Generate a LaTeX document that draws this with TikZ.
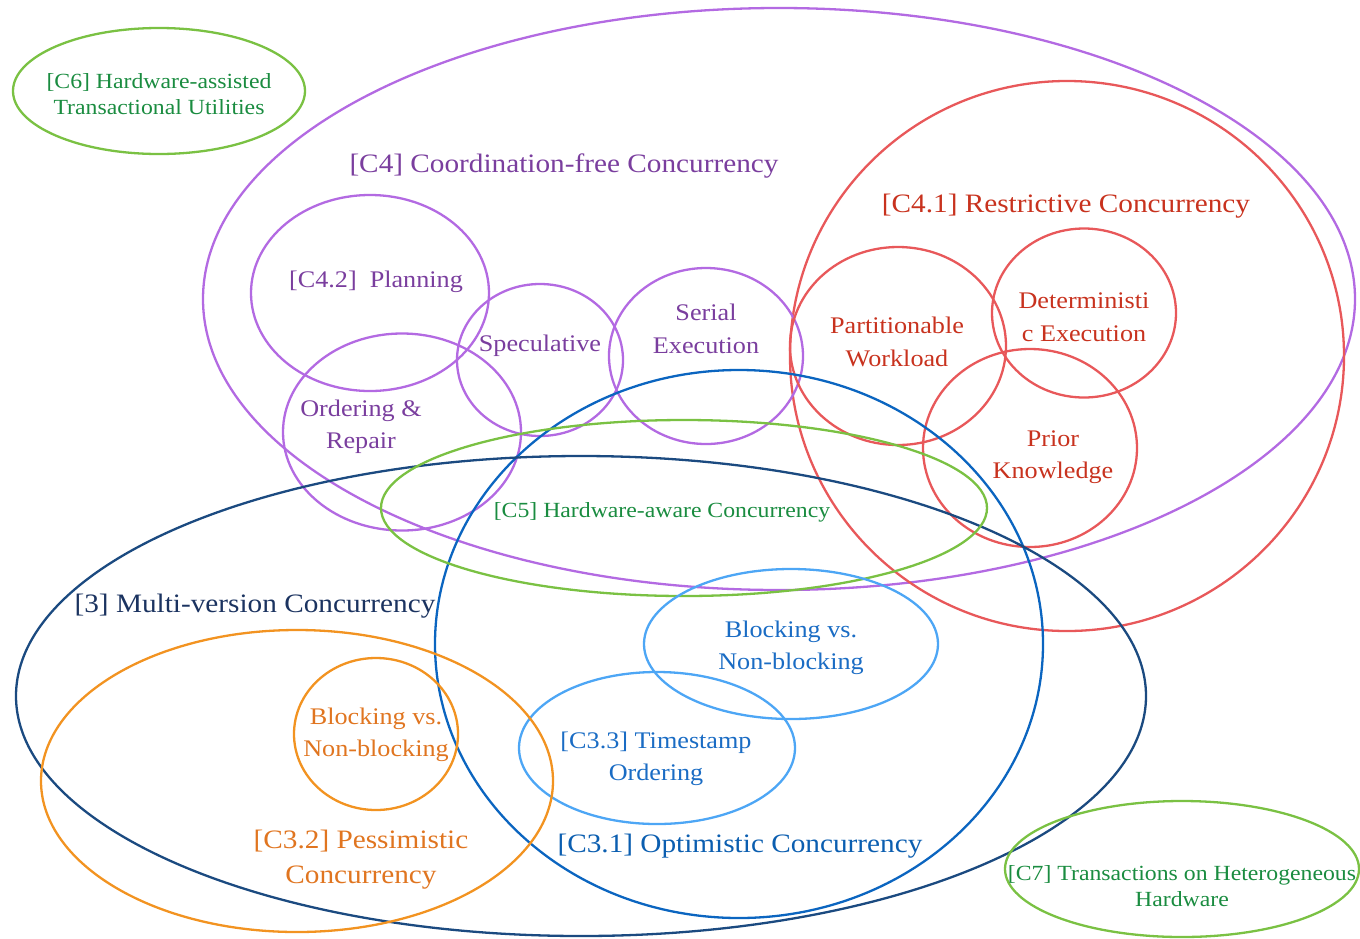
\documentclass[tikz,border=0pt]{standalone}
\usepackage{fontspec}
\setmainfont{Liberation Serif}[FakeStretch=1.1]
\usetikzlibrary{shapes.geometric}
\definecolor{purL}{HTML}{B36AE2}
\definecolor{purT}{HTML}{7A3E9E}
\definecolor{redL}{HTML}{E8585A}
\definecolor{redT}{HTML}{C8321E}
\definecolor{bluL}{HTML}{0B65C0}
\definecolor{bluT}{HTML}{0B5EB0}
\definecolor{ltbL}{HTML}{4DA6F5}
\definecolor{ltbT}{HTML}{1A6CC4}
\definecolor{navL}{HTML}{1B4A80}
\definecolor{navT}{HTML}{1B3360}
\definecolor{oraL}{HTML}{F29321}
\definecolor{oraT}{HTML}{E07520}
\definecolor{grnL}{HTML}{7AC143}
\definecolor{grnT}{HTML}{1A8C40}
\tikzset{
  ring/.style={ellipse, inner sep=0pt, line width=2.3pt},
  lbl/.style={align=center, inner sep=0pt},
  big/.style={font=\fontsize{26.6}{35}\selectfont},
  mid/.style={font=\fontsize{23.8}{32.5}\selectfont},
  sml/.style={font=\fontsize{21.6}{26.5}\selectfont},
}
\begin{document}
\begin{tikzpicture}[x=1pt,y=-1pt]
\useasboundingbox (0,0) rectangle (1360,938);
% ellipses
\node[ring, draw=grnL, minimum width=292pt, minimum height=126pt] (c6) at (159,91) {};
\node[ring, draw=purL, minimum width=1152pt, minimum height=582pt] (c4) at (779,299) {};
\node[ring, draw=redL, minimum width=554pt, minimum height=550pt] (c41) at (1067,356) {};
\node[ring, draw=purL, minimum width=238pt, minimum height=196pt] (c42) at (370,293) {};
\node[ring, draw=purL, minimum width=166pt, minimum height=152pt] (spec) at (540,360) {};
\node[ring, draw=purL, minimum width=194pt, minimum height=176pt] (serial) at (706,356) {};
\node[ring, draw=purL, minimum width=238pt, minimum height=197pt] (order) at (402,432) {};
\node[ring, draw=redL, minimum width=216pt, minimum height=198pt] (part) at (898,346) {};
\node[ring, draw=redL, minimum width=184pt, minimum height=169pt] (det) at (1084,313) {};
\node[ring, draw=redL, minimum width=214pt, minimum height=198pt] (prior) at (1030,448) {};
\node[ring, draw=bluL, minimum width=608pt, minimum height=548pt] (c31) at (739,644) {};
\node[ring, draw=navL, minimum width=1130pt, minimum height=480pt] (mv) at (581,696) {};
\node[ring, draw=grnL, minimum width=606pt, minimum height=176pt] (c5) at (684,508) {};
\node[ring, draw=ltbL, minimum width=294pt, minimum height=150pt] (bnb) at (791,644) {};
\node[ring, draw=ltbL, minimum width=276pt, minimum height=152pt] (c33) at (657,748) {};
\node[ring, draw=oraL, minimum width=512pt, minimum height=302pt] (c32) at (297,781) {};
\node[ring, draw=oraL, minimum width=164pt, minimum height=152pt] (obnb) at (376,734) {};
\node[ring, draw=grnL, minimum width=354pt, minimum height=136pt] (c7) at (1182,869) {};
% labels
\node[lbl, sml, text=grnT] (tc6) at (159,94) {[C6] Hardware-assisted\\Transactional Utilities};
\node[lbl, big, text=purT] (tc4) at (564,166) {[C4] Coordination-free Concurrency};
\node[lbl, big, text=redT] (tc41) at (1066,206) {[C4.1] Restrictive Concurrency};
\node[lbl, mid, text=purT] (tc42) at (376,282) {[C4.2]\ \ Planning};
\node[lbl, mid, text=purT] (tspec) at (540,346) {Speculative};
\node[lbl, mid, text=purT] (tserial) at (706,329) {Serial\\Execution};
\node[lbl, mid, text=purT] (torder) at (361,427) {Ordering \&\\Repair};
\node[lbl, mid, text=redT] (tpart) at (897,342) {Partitionable\\Workload};
\node[lbl, mid, text=redT] (tdet) at (1084,317) {Deterministi\\c Execution};
\node[lbl, mid, text=redT] (tprior) at (1053,457) {Prior\\Knowledge};
\node[lbl, sml, text=grnT] (tc5) at (662,512) {[C5] Hardware-aware Concurrency};
\node[lbl, big, text=navT] (tmv) at (255,606) {[3] Multi-version Concurrency};
\node[lbl, mid, text=ltbT] (tbnb) at (791,648) {Blocking vs.\\Non-blocking};
\node[lbl, mid, text=ltbT] (tc33) at (656,759) {[C3.3] Timestamp\\Ordering};
\node[lbl, big, text=bluT] (tc31) at (740,846) {[C3.1] Optimistic Concurrency};
\node[lbl, big, text=oraT] (tc32) at (361,860) {[C3.2] Pessimistic\\Concurrency};
\node[lbl, mid, text=oraT] (tobnb) at (376,735) {Blocking vs.\\Non-blocking};
\node[lbl, sml, text=grnT] (tc7) at (1182,886) {[C7] Transactions on Heterogeneous\\Hardware};
\end{tikzpicture}
\end{document}
